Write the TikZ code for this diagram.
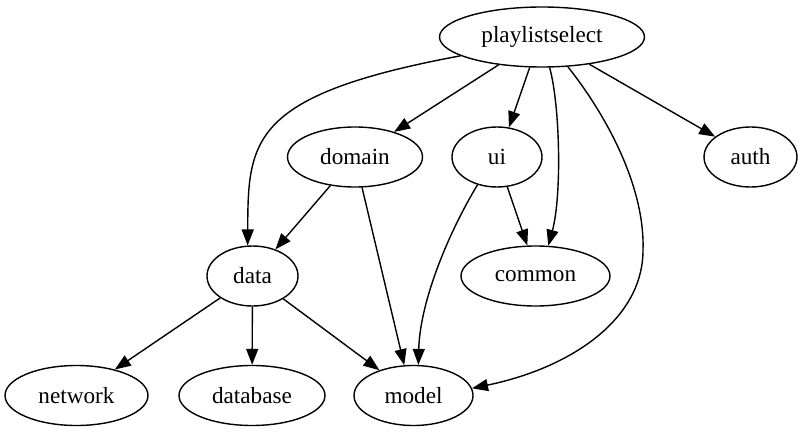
\documentclass[tikz,border=0pt]{standalone}
\usepackage{fontspec}
\setmainfont{Liberation Serif}
\usetikzlibrary{shapes.geometric,arrows.meta}
\begin{document}
\begin{tikzpicture}[x=1pt,y=-1pt,
  ell/.style={draw,ellipse,inner sep=0pt,line width=1.4pt,minimum height=60pt,
    font=\fontsize{23.2}{28}\selectfont},
  arr/.style={line width=1.4pt,-{Triangle[length=16pt,width=12pt]}}]
\path[use as bounding box] (0,0) rectangle (803,433);
\node[ell,minimum width=205pt] (ps) at (542,37) {playlistselect};
\node[ell,minimum width=135pt] (domain) at (355,157) {domain};
\node[ell,minimum width=90pt] (ui) at (497,157) {ui};
\node[ell,minimum width=93pt] (auth) at (750.5,157) {auth};
\node[ell,minimum width=91pt] (data) at (252.5,276) {data};
\node[ell,minimum width=149pt] (common) at (535.5,276) {common};
\node[ell,minimum width=143pt] (network) at (76.5,395.5) {network};
\node[ell,minimum width=146pt] (database) at (252,395.5) {database};
\node[ell,minimum width=119pt] (model) at (413.5,395.5) {model};

\draw[arr] (ps.-167.6) .. controls (250,95) and (248,140) .. (data.99);
\draw[arr] (ps) -- (domain);
\draw[arr] (ps.-112) -- (ui.68);
\draw[arr] (ps.-76) .. controls (560,105) and (562,195) .. (common.67);
\draw[arr] (ps.-49) .. controls (610,120) and (645,190) .. (643,250)
  .. controls (643,320) and (570,368) .. (model.7.3);
\draw[arr] (ps) -- (auth);
\draw[arr] (domain) -- (data);
\draw[arr] (domain.-77) -- (model.107);
\draw[arr] (ui.-71.6) -- (common.105.8);
\draw[arr] (ui.-125.5) .. controls (450,230) and (420,300) .. (model.81);
\draw[arr] (data) -- (network);
\draw[arr] (data) -- (database);
\draw[arr] (data) -- (model);
\end{tikzpicture}
\end{document}
